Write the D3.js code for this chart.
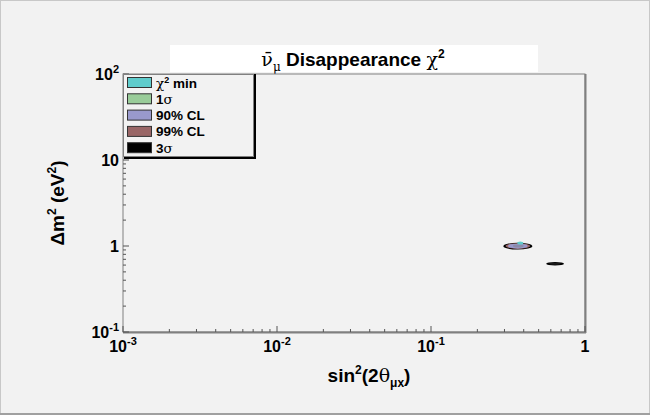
<!DOCTYPE html>
<html><head><meta charset="utf-8">
<script src="https://cdn.jsdelivr.net/npm/d3@7"></script>
<style>
html,body{margin:0;padding:0;background:#f2f2f2;}
svg{display:block;font-family:"Liberation Sans",Arial,sans-serif;}
</style></head>
<body>
<svg id="c" width="650" height="415"></svg>
<script>
// ---- data ----
const xDomain = [1e-3, 1];
const yDomain = [0.1, 100];
const xTickValues = [1e-3, 1e-2, 1e-1, 1];
const xTickBases = ["10", "10", "10", "1"];
const xTickExps = ["-3", "-2", "-1", ""];
const yTickValues = [100, 10, 1, 0.1];
const yTickBases = ["10", "10", "1", "10"];
const yTickExps = ["2", "", "", "-1"];
const legendLabels = ["χ² min", "1σ", "90% CL", "99% CL", "3σ"];
const legendColors = ["#5fcccc", "#99cc99", "#9999cc", "#996666", "#000000"];
// contour islands: [x-min, x-max, y-min, y-max] in data units, per level (outer -> inner)
const island1Levels = ["3σ", "99% CL", "90% CL", "1σ"];
const island1Bounds = [[0.295, 0.455, 0.910, 1.090], [0.305, 0.440, 0.925, 1.075], [0.315, 0.425, 0.935, 1.065], [0.340, 0.400, 0.960, 1.040]];
const island1Colors = ["#000000", "#996666", "#9999cc", "#8c8aa8"];
const island2Levels = ["3σ", "99% CL"];
const island2Bounds = [[0.560, 0.730, 0.595, 0.650], [0.585, 0.695, 0.607, 0.637]];
const island2Colors = ["#000000", "#1a1a1a"];
const minPoint = [0.380, 1.085];

const svg = d3.select("#c");
const W = 650, H = 415;
const L = 123, R = 585, T = 74, B = 332;

// page border
svg.append("rect").attr("x",0.5).attr("y",0.5).attr("width",W-1).attr("height",H-1).attr("fill","#f2f2f2").attr("stroke","#c8c8c8");
svg.append("line").attr("x1",0).attr("x2",W).attr("y1",H-1).attr("y2",H-1).attr("stroke","#a0a0a0").attr("stroke-width",2);

const x = d3.scaleLog().domain(xDomain).range([L, R]);
const y = d3.scaleLog().domain(yDomain).range([B, T]);

// title box
svg.append("rect").attr("x",170).attr("y",45).attr("width",368).attr("height",27).attr("fill","#ffffff");
const title = svg.append("text").attr("x",353).attr("y",66).attr("text-anchor","middle")
  .attr("font-size",19).attr("font-weight","bold").attr("fill","#000");
title.append("tspan").attr("font-weight","normal").attr("font-family","'DejaVu Serif',serif").text("ν\u0304");
title.append("tspan").attr("font-weight","normal").attr("font-family","'DejaVu Serif',serif").attr("font-size",12).attr("dy",5).text("μ");
title.append("tspan").attr("dy",-5).text(" Disappearance ");
title.append("tspan").attr("font-weight","normal").attr("font-family","'DejaVu Serif',serif").text("χ");
title.append("tspan").attr("font-size",12).attr("dy",-8).text("2");

// plot frame
svg.append("rect").attr("x",L).attr("y",T).attr("width",R-L).attr("height",B-T).attr("fill","#f2f2f2").attr("stroke","#808080").attr("stroke-width",1);
svg.append("line").attr("x1",R+0.5).attr("x2",R+0.5).attr("y1",T).attr("y2",B+1).attr("stroke","#808080").attr("stroke-width",2);
svg.append("line").attr("x1",L).attr("x2",R+1).attr("y1",B+0.5).attr("y2",B+0.5).attr("stroke","#808080").attr("stroke-width",2);

// ticks (inside)
const minorX = [];
for (let e=-3;e<0;e++) for (let k=2;k<=9;k++) minorX.push(k*Math.pow(10,e));
const minorY = [];
for (let e=-1;e<2;e++) for (let k=2;k<=9;k++) minorY.push(k*Math.pow(10,e));
const gx = svg.append("g");
gx.selectAll("line.mx").data(minorX).join("line").attr("x1",d=>x(d)).attr("x2",d=>x(d)).attr("y1",B).attr("y2",B-3).attr("stroke","#555");
gx.selectAll("line.Mx").data(xTickValues).join("line").attr("x1",d=>x(d)).attr("x2",d=>x(d)).attr("y1",B).attr("y2",B-6).attr("stroke","#555");
const gy = svg.append("g");
gy.selectAll("line.my").data(minorY).join("line").attr("x1",L).attr("x2",L+3).attr("y1",d=>y(d)).attr("y2",d=>y(d)).attr("stroke","#555");
gy.selectAll("line.My").data(yTickValues).join("line").attr("x1",L).attr("x2",L+6).attr("y1",d=>y(d)).attr("y2",d=>y(d)).attr("stroke","#555");

// tick labels
xTickValues.forEach((v,i)=>{
  const t = svg.append("text").attr("x",x(v)).attr("y",352).attr("text-anchor","middle").attr("font-size",16).attr("font-weight","bold");
  t.append("tspan").text(xTickBases[i]);
  if (xTickExps[i]) t.append("tspan").attr("font-size",11).attr("dy",-7).text(xTickExps[i]);
});
yTickValues.forEach((v,i)=>{
  const t = svg.append("text").attr("x",119).attr("y",y(v)+6).attr("text-anchor","end").attr("font-size",16).attr("font-weight","bold");
  t.append("tspan").text(yTickBases[i]);
  if (yTickExps[i]) t.append("tspan").attr("font-size",11).attr("dy",-7).text(yTickExps[i]);
});

// axis titles
const xt = svg.append("text").attr("x",369).attr("y",382).attr("text-anchor","middle").attr("font-size",19).attr("font-weight","bold");
xt.append("tspan").text("sin");
xt.append("tspan").attr("font-size",12).attr("dy",-8).text("2");
xt.append("tspan").attr("dy",8).text("(2");
xt.append("tspan").attr("font-weight","normal").attr("font-family","'DejaVu Serif',serif").text("θ");
xt.append("tspan").attr("font-size",12).attr("dy",5).text("μx");
xt.append("tspan").attr("dy",-5).text(")");

const yt = svg.append("text").attr("transform","translate(64,203) rotate(-90)").attr("text-anchor","middle").attr("font-size",19).attr("font-weight","bold");
yt.append("tspan").text("Δm");
yt.append("tspan").attr("font-size",12).attr("dy",-8).text("2");
yt.append("tspan").attr("dy",8).text(" (eV");
yt.append("tspan").attr("font-size",12).attr("dy",-8).text("2");
yt.append("tspan").attr("dy",8).text(")");

// contours
function drawIsland(bounds, colors){
  svg.append("g").selectAll("ellipse").data(bounds).join("ellipse")
    .attr("cx",d=>(x(d[0])+x(d[1]))/2).attr("cy",d=>(y(d[2])+y(d[3]))/2)
    .attr("rx",d=>(x(d[1])-x(d[0]))/2).attr("ry",d=>(y(d[2])-y(d[3]))/2)
    .attr("fill",(d,i)=>colors[i]);
}
drawIsland(island1Bounds, island1Colors);
drawIsland(island2Bounds, island2Colors);
svg.append("ellipse").attr("cx",x(minPoint[0])).attr("cy",y(minPoint[1])).attr("rx",3).attr("ry",1.5).attr("fill",legendColors[0]);

// legend
const lg = svg.append("g");
lg.append("rect").attr("x",L+0.5).attr("y",T+0.5).attr("width",130).attr("height",82).attr("fill","#f2f2f2").attr("stroke","#808080");
lg.append("line").attr("x1",L+132).attr("x2",L+132).attr("y1",T).attr("y2",T+85).attr("stroke","#000").attr("stroke-width",2);
lg.append("line").attr("x1",L+1).attr("x2",L+133).attr("y1",T+84).attr("y2",T+84).attr("stroke","#000").attr("stroke-width",2);
legendLabels.forEach((lab,i)=>{
  const yy = T + 3 + i*16.3;
  lg.append("rect").attr("x",127.5).attr("y",yy+0.5).attr("width",24).attr("height",10).attr("fill",legendColors[i]).attr("stroke","#333");
  const t = lg.append("text").attr("x",156).attr("y",yy+10.5).attr("font-size",13.5).attr("font-weight","bold");
  if (i===0){
    t.append("tspan").attr("font-weight","normal").attr("font-family","'DejaVu Serif',serif").text("χ");
    t.append("tspan").attr("font-size",9).attr("dy",-5).text("2");
    t.append("tspan").attr("dy",5).text(" min");
  } else if (i===1 || i===4){
    t.append("tspan").text(i===1?"1":"3");
    t.append("tspan").attr("font-weight","normal").attr("font-family","'DejaVu Serif',serif").text("σ");
  } else t.text(lab);
});
</script>
</body></html>
